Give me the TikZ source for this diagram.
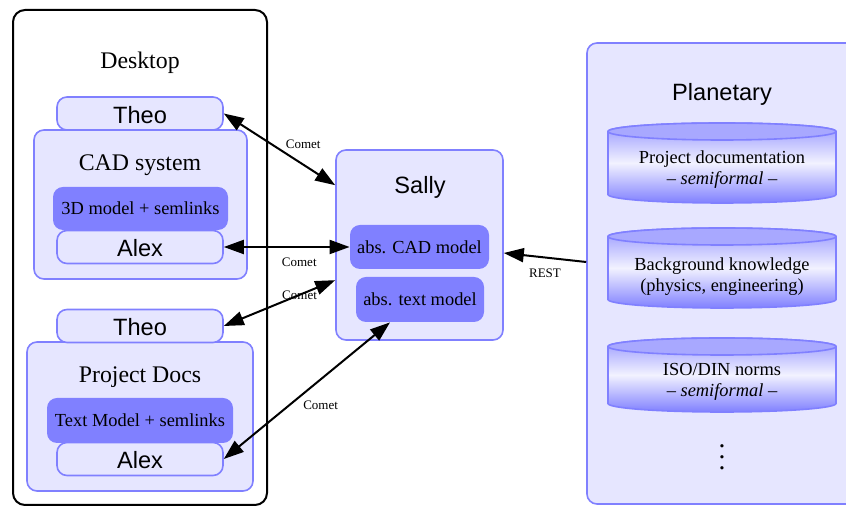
\documentclass[tikz,border=0pt]{standalone}
\usepackage{fontspec}
\setmainfont{Liberation Serif}
\newfontfamily\sansfam{Liberation Sans}
\usetikzlibrary{arrows.meta,calc}
\definecolor{lightfill}{RGB}{230,230,255}
\definecolor{bordercol}{RGB}{128,128,255}
\definecolor{darkfill}{RGB}{128,128,255}
\definecolor{captop}{RGB}{168,168,255}
\definecolor{cyltop}{RGB}{150,150,255}
\definecolor{cylmid}{RGB}{242,242,255}
\definecolor{cylbot}{RGB}{128,128,255}
\newcommand{\myBigSans}{\sansfam\fontsize{11.8}{14}\selectfont}
\newcommand{\myBigSerif}{\fontsize{11.9}{14}\selectfont}
\newcommand{\myMedSerif}{\fontsize{9.2}{10.5}\selectfont}
\newcommand{\mySmallSerif}{\fontsize{6.5}{8}\selectfont}
\begin{document}
\begin{tikzpicture}[x=0.5pt,y=-0.5pt,
  lbox/.style={draw=bordercol, fill=lightfill, line width=0.8pt, rounded corners=5pt, inner sep=0pt},
  dbox/.style={fill=darkfill, rounded corners=5pt, inner sep=0pt, font=\myMedSerif},
  userbox/.style={lbox, font=\myBigSans, minimum width=83pt, minimum height=16.5pt, text height=10pt, text depth=0pt},
  bigtitle/.style={font=\myBigSerif, inner sep=0pt},
  sanstitle/.style={font=\myBigSans, inner sep=0pt},
  cyltext/.style={font=\myMedSerif, align=center, inner sep=0pt},
  cylbody/.style={top color=cyltop, bottom color=cylbot, middle color=cylmid, draw=bordercol, line width=0.8pt},
  cylcap/.style={fill=captop, draw=bordercol, line width=0.8pt},
  conn/.style={line width=1pt, {Triangle[length=10pt,width=7pt]}-{Triangle[length=10pt,width=7pt]}},
  oneway/.style={line width=1pt, -{Triangle[length=10pt,width=7pt]}},
  lbl/.style={font=\mySmallSerif, inner sep=1pt}
]
\useasboundingbox (0,0) rectangle (846,506);
\clip (0,0) rectangle (846,506);

% Desktop
\node[draw=black, line width=1pt, rounded corners=6pt, minimum width=127pt, minimum height=247.5pt, inner sep=0pt] (desktop) at (140,257.5) {};
\node[bigtitle] (desktoptitle) at (140,63) {Desktop};

% CAD system
\node[lbox, minimum width=106.5pt, minimum height=74.5pt] (cadsys) at (140.5,204.5) {};
\node[bigtitle] (cadtitle) at (140,165) {CAD system};
\node[dbox, minimum width=87.5pt, minimum height=21.5pt] (model3d) at (140.5,208.5) {3D model + semlinks};
\node[userbox] (alex1) at (140,247) {Alex};
\node[userbox] (theo1) at (140,113.5) {Theo};

% Project Docs
\node[lbox, minimum width=113pt, minimum height=74.5pt] (docs) at (140,416.5) {};
\node[bigtitle] (docstitle) at (140,377) {Project Docs};
\node[dbox, minimum width=93pt, minimum height=22.5pt] (textmodel) at (140,420.5) {Text Model + semlinks};
\node[userbox] (alex2) at (140,459) {Alex};
\node[userbox] (theo2) at (140,326) {Theo};

% Sally
\node[lbox, minimum width=83.5pt, minimum height=95pt] (sally) at (419.5,245) {};
\node[sanstitle] (sallytitle) at (420,187) {Sally};
\node[dbox, minimum width=69.5pt, minimum height=22pt] (abscad) at (419.5,247) {abs. CAD model};
\node[dbox, minimum width=64pt, minimum height=22.5pt] (abstext) at (420,299.5) {abs. text model};

% Planetary
\node[lbox, minimum width=140pt, minimum height=230.5pt] (planetary) at (727,273.5) {};
\node[sanstitle] (plantitle) at (722,94) {Planetary};

% cylinder 1
\path[cylbody] (608,131.5) -- (608,194.5) arc[start angle=180,end angle=360,x radius=57pt,y radius=4.25pt] -- (836,131.5) arc[start angle=0,end angle=180,x radius=57pt,y radius=4.25pt] -- cycle;
\path[cylcap] (722,131.5) ellipse[x radius=57pt, y radius=4.25pt];
\node[cyltext] (pdoc) at (722,170) {Project documentation\\ -- \textit{semiformal} --};

% cylinder 2
\path[cylbody] (608,236.5) -- (608,299.5) arc[start angle=180,end angle=360,x radius=57pt,y radius=4.25pt] -- (836,236.5) arc[start angle=0,end angle=180,x radius=57pt,y radius=4.25pt] -- cycle;
\path[cylcap] (722,236.5) ellipse[x radius=57pt, y radius=4.25pt];
\node[cyltext] (bgk) at (722,276.5) {Background knowledge\\ (physics, engineering)};

% cylinder 3
\path[cylbody] (608,346.5) -- (608,403.5) arc[start angle=180,end angle=360,x radius=57pt,y radius=4.25pt] -- (836,346.5) arc[start angle=0,end angle=180,x radius=57pt,y radius=4.25pt] -- cycle;
\path[cylcap] (722,346.5) ellipse[x radius=57pt, y radius=4.25pt];
\node[cyltext] (iso) at (722,382) {ISO/DIN norms\\ -- \textit{semiformal} --};

\node[scale=1.375, inner sep=0pt] (dots) at (722,449) {$\vdots$};

% connectors
\draw[conn] (theo1.east) -- node[lbl, pos=0.53, anchor=south west] (c1) {Comet} ($(sally.north west)+(0,36)$);
\draw[conn] (alex1.east) -- node[lbl, pos=0.6, below=4pt] (c2) {Comet} (abscad.west);
\draw[conn] (theo2.east) -- node[lbl, pos=0.68] (c3) {Comet} ($(sally.north west)+(0,131)$);
\draw[conn] (alex2.east) -- node[lbl, pos=0.46, anchor=north west, yshift=-1pt] (c4) {Comet} ($(abstext.south)+(-30,0)$);
\draw[oneway] ($(planetary.west)+(0,-11.5)$) -- node[lbl, below=4pt] (rest) {REST} ($(sally.east)+(0,8)$);
\end{tikzpicture}
\end{document}
